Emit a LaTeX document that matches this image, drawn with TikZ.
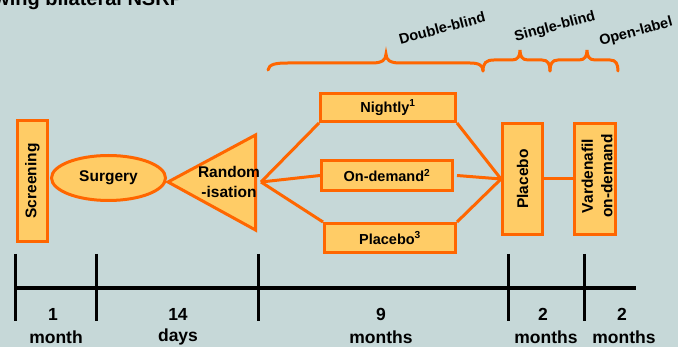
\documentclass[tikz,border=0pt]{standalone}
\usepackage{fontspec}
\setmainfont{Liberation Sans}
\usetikzlibrary{shapes.geometric,calc}
\definecolor{bgc}{RGB}{198,216,216}
\definecolor{orng}{RGB}{255,102,0}
\definecolor{lorng}{RGB}{255,204,102}
\begin{document}
\begin{tikzpicture}[x=1pt,y=-1pt,
  box/.style={draw=orng,fill=lorng,line width=3pt,rectangle,inner sep=0pt},
  hbtext/.style={font=\fontsize{14.5}{17}\selectfont\bfseries,text=black,inner sep=0pt},
  bigtext/.style={font=\fontsize{15.5}{19.5}\selectfont\bfseries,text=black,inner sep=0pt,align=center},
  conn/.style={draw=orng,line width=3pt},
  bracestyle/.style={draw=orng,line width=3pt,line cap=round},
  bracelabel/.style={font=\fontsize{14.5}{17}\selectfont\bfseries,text=black,inner sep=0pt,rotate=15},
  tltext/.style={font=\fontsize{17.5}{20}\selectfont\bfseries,text=black,inner sep=0pt},
  tick/.style={draw=black,line width=3pt}]
\fill[bgc] (0,0) rectangle (678,347);
\useasboundingbox (0,0) rectangle (678,347);

% title (cut off at the top)
\node[anchor=base west,font=\fontsize{20}{24}\selectfont\bfseries,inner sep=0pt] (title) at (-6,6) {wing bilateral NSRP};

% braces
\draw[bracestyle] (268,70) .. controls (269,64) and (276,63) .. (288,63) -- (372,63)
  .. controls (382,63) and (386,60) .. (386,54) .. controls (386,60) and (390,63) .. (400,63)
  -- (470,63) .. controls (480,63) and (483,66) .. (483,71);
\draw[bracestyle] (483,71) .. controls (483,63) and (486,60) .. (494,60) -- (512,60)
  .. controls (518,60) and (520,56) .. (520,50) .. controls (520,56) and (522,60) .. (528,60)
  -- (542,60) .. controls (548,60) and (550,64) .. (550,71);
\draw[bracestyle] (550,71) .. controls (550,64) and (552,60) .. (558,60) -- (579,60)
  .. controls (585,60) and (587,56) .. (587,50) .. controls (587,56) and (589,60) .. (595,60)
  -- (610,60) .. controls (616,60) and (618,64) .. (618,71);
\node[bracelabel] (dbl) at (442,28) {Double-blind};
\node[bracelabel] (sgl) at (555,27) {Single-blind};
\node[bracelabel] (opn) at (636,32) {Open-label};

% screening
\node[box,minimum width=30pt,minimum height=121pt] (screen) at (32.5,181) {};
\node[bigtext,rotate=90] (screentxt) at (screen.center) {Screening};

% surgery
\node[ellipse,draw=orng,fill=lorng,line width=3pt,minimum width=114pt,minimum height=45pt,inner sep=0pt,font=\fontsize{15.5}{19}\selectfont\bfseries] (surgery) at (108.5,178) {Surgery};

% randomisation triangle
\coordinate (tA) at (168,182);
\coordinate (tB) at (255.5,135);
\coordinate (tC) at (255.5,230);
\draw[conn,fill=lorng,line join=miter] (tA) -- (tB) -- (tC) -- cycle;
\node[bigtext] (rand) at (229,182) {Random\\-isation};
\coordinate (split) at (261,182);

% double-blind arms
\node[box,minimum width=135pt,minimum height=28pt] (nightly) at (388,107.5) {};
\node[hbtext] (nightlytxt) at (nightly.center) {Nightly\textsuperscript{1}};
\node[box,minimum width=131pt,minimum height=30pt] (ondemand) at (387,175.5) {};
\node[hbtext] (ondemandtxt) at (ondemand.center) {On-demand\textsuperscript{2}};
\node[box,minimum width=131pt,minimum height=29pt] (placeboA) at (390,238) {};
\node[hbtext] (placeboAtxt) at (placeboA.center) {Placebo\textsuperscript{3}};

% single-blind and open-label
\node[box,minimum width=40pt,minimum height=111pt] (placeboB) at (522.5,179) {};
\node[bigtext,rotate=90] (placeboBtxt) at (placeboB.center) {Placebo};
\node[box,minimum width=41pt,minimum height=111pt] (vard) at (595,179) {};
\node[bigtext,rotate=90] (vardtxt) at (597,176) {Vardenafil\\on-demand};

% connectors
\draw[conn] (split) -- (nightly.south west);
\draw[conn] (split) -- (ondemand.west);
\draw[conn] (split) -- (placeboA.north west);
\draw[conn] (nightly.south east) -- (placeboB.west);
\draw[conn] ($(ondemand.east)+(3,0)$) -- (placeboB.west);
\draw[conn] (placeboA.north east) -- (placeboB.west);
\draw[conn] (placeboB.east) -- (vard.west);

% timeline
\draw[draw=black,line width=4pt] (15,288) -- (636,288);
\foreach \x in {15,96,258,508,584} \draw[tick] (\x,254) -- (\x,321);
\node[tltext] (n1) at (53,314) {1};
\node[tltext] (u1) at (56,337) {month};
\node[tltext] (n2) at (178,314) {14};
\node[tltext] (u2) at (178,337) {days};
\node[tltext] (n3) at (381,314) {9};
\node[tltext] (u3) at (381,337) {months};
\node[tltext] (n4) at (543,314) {2};
\node[tltext] (u4) at (546,337) {months};
\node[tltext] (n5) at (622,314) {2};
\node[tltext] (u5) at (624,337) {months};
\end{tikzpicture}
\end{document}
